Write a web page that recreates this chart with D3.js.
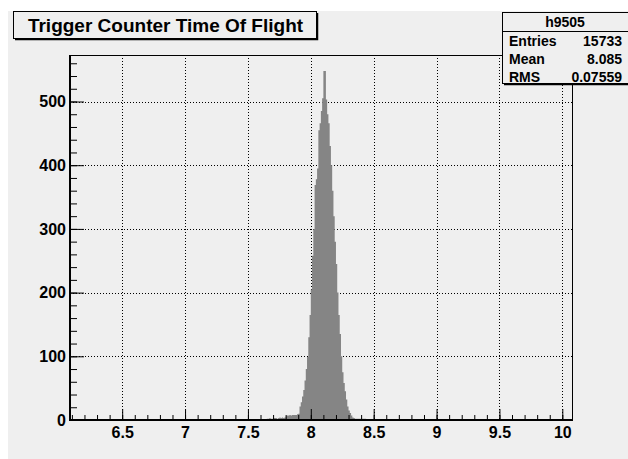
<!DOCTYPE html>
<html>
<head>
<meta charset="utf-8">
<script src="https://cdn.jsdelivr.net/npm/d3@7"></script>
<style>
  html, body { margin: 0; padding: 0; background: #fff; }
  svg { display: block; font-family: "Liberation Sans", Arial, Helvetica, sans-serif; font-weight: bold; }
</style>
</head>
<body>
<svg id="chart" width="628" height="459"></svg>
<script>
// histogram + stats box contents
const histName = "h9505";
const titleText = "Trigger Counter Time Of Flight";
const statLabels = ["Entries", "Mean", "RMS"];
const statValues = ["15733", "8.085", "0.07559"];

// axes
const xDomain = [6.085, 10.085];
const yMax = 573;
const xMajorTicks = [6.5, 7, 7.5, 8, 8.5, 9, 9.5, 10];
const xTickLabels = ["6.5", "7", "7.5", "8", "8.5", "9", "9.5", "10"];
const yMajorTicks = [0, 100, 200, 300, 400, 500];
const yTickLabels = ["0", "100", "200", "300", "400", "500"];

// bins: first low edge, width, contents
const binLow = 7.30;
const binWidth = 0.01;
const counts = [
  0, 0, 0, 1, 0, 0, 0, 0, 0, 0,          // 7.30
  0, 0, 0, 0, 0, 1, 0, 0, 0, 0,          // 7.40
  0, 0, 0, 0, 0, 0, 1, 0, 0, 0,          // 7.50
  1, 0, 1, 1, 1, 2, 2, 3, 2, 2,          // 7.60
  3, 3, 3, 2, 3, 4, 3, 4, 3, 4,          // 7.70
  6, 7, 7, 8, 7, 8, 8, 8, 8, 9,          // 7.80
  10, 21, 28, 37, 47, 62, 80, 99, 130, 165,      // 7.90
  205, 258, 300, 369, 378, 395, 455, 466, 485, 505, // 8.00
  548, 548, 503, 480, 466, 430, 400, 360, 320, 280, // 8.10
  245, 200, 165, 135, 100, 75, 58, 45, 32, 21,    // 8.20
  15, 11, 7, 4, 3, 2, 2, 2, 2, 2,        // 8.30
  2, 2, 2, 2, 1, 1, 1, 1, 1, 1,          // 8.40
  1, 0, 0, 0, 0, 1, 0, 0, 0, 0           // 8.50
];

const W = 628, H = 459;
const frame = { left: 70, right: 573, top: 55, bottom: 420 };
const bgColor = "#efefef";
const histColor = "#858585";

const svg = d3.select("#chart");

const x = d3.scaleLinear().domain(xDomain).range([frame.left, frame.right]);
const y = d3.scaleLinear().domain([0, yMax]).range([frame.bottom, frame.top]);

// canvas
svg.append("rect").attr("width", W).attr("height", H).attr("fill", "#fff");
svg.append("rect").attr("x", 8).attr("y", 11).attr("width", W - 8).attr("height", H - 11).attr("fill", bgColor);

svg.append("clipPath").attr("id", "frameClip")
  .append("rect")
  .attr("x", frame.left).attr("y", frame.top)
  .attr("width", frame.right - frame.left).attr("height", frame.bottom - frame.top);

// grid (dotted)
const grid = svg.append("g").attr("stroke", "#000").attr("stroke-width", 1).attr("stroke-dasharray", "1,2");
grid.selectAll("line.gx").data(xMajorTicks).enter().append("line")
  .attr("x1", d => Math.round(x(d)) + 0.5).attr("x2", d => Math.round(x(d)) + 0.5)
  .attr("y1", frame.top).attr("y2", frame.bottom);
grid.selectAll("line.gy").data(yMajorTicks.filter(d => d > 0)).enter().append("line")
  .attr("x1", frame.left).attr("x2", frame.right)
  .attr("y1", d => Math.round(y(d)) + 0.5).attr("y2", d => Math.round(y(d)) + 0.5);

// histogram
const pts = counts.map((c, i) => [binLow + i * binWidth, c]);
pts.push([binLow + counts.length * binWidth, 0]);
const area = d3.area()
  .curve(d3.curveStepAfter)
  .x(d => x(d[0]))
  .y0(y(0))
  .y1(d => y(d[1]));
svg.append("path")
  .datum(pts)
  .attr("clip-path", "url(#frameClip)")
  .attr("d", area)
  .attr("fill", histColor)
  .attr("stroke", "none");

// ticks + labels
function styleAxis(g) {
  g.select(".domain").remove();
  g.attr("font-family", null).attr("font-size", 16).attr("font-weight", "bold");
  g.selectAll("line").attr("stroke", "#000");
  g.selectAll("text").attr("fill", "#000");
}

svg.append("g")
  .attr("transform", `translate(0,${frame.bottom})`)
  .call(d3.axisBottom(x).tickValues(d3.range(61, 101).map(v => v / 10)).tickSize(-5).tickSizeOuter(0).tickFormat(""))
  .call(styleAxis);
svg.append("g")
  .attr("transform", `translate(0,${frame.bottom})`)
  .call(d3.axisBottom(x).tickValues(xMajorTicks).tickSize(-11).tickSizeOuter(0).tickPadding(7)
    .tickFormat((d, i) => xTickLabels[i]))
  .call(styleAxis);

svg.append("g")
  .attr("transform", `translate(${frame.left},0)`)
  .call(d3.axisLeft(y).tickValues(d3.range(0, 561, 20)).tickSize(-7).tickSizeOuter(0).tickFormat(""))
  .call(styleAxis);
svg.append("g")
  .attr("transform", `translate(${frame.left},0)`)
  .call(d3.axisLeft(y).tickValues(yMajorTicks).tickSize(-14).tickSizeOuter(0).tickPadding(4)
    .tickFormat((d, i) => yTickLabels[i]))
  .call(styleAxis);

// frame
svg.append("rect")
  .attr("x", frame.left + 0.5).attr("y", frame.top + 0.5)
  .attr("width", frame.right - frame.left - 1).attr("height", frame.bottom - frame.top - 1)
  .attr("fill", "none").attr("stroke", "#000").attr("stroke-width", 1);
svg.append("line").attr("x1", frame.left).attr("x2", frame.left).attr("y1", frame.top).attr("y2", frame.bottom + 1)
  .attr("stroke", "#000").attr("stroke-width", 2);
svg.append("line").attr("x1", frame.left).attr("x2", frame.right).attr("y1", frame.bottom).attr("y2", frame.bottom)
  .attr("stroke", "#000").attr("stroke-width", 2);

// title box
const tb = { x: 13, y: 11, w: 303, h: 27 };
svg.append("rect").attr("x", tb.x + 0.5).attr("y", tb.y + 0.5).attr("width", tb.w).attr("height", tb.h)
  .attr("fill", bgColor).attr("stroke", "#000");
svg.append("path")
  .attr("d", `M${tb.x + 2},${tb.y + tb.h + 1.5}H${tb.x + tb.w + 1.5}V${tb.y + 2}`)
  .attr("fill", "none").attr("stroke", "#000").attr("stroke-width", 1.5);
svg.append("text")
  .attr("x", tb.x + tb.w / 2 + 1).attr("y", 31.5)
  .attr("text-anchor", "middle").attr("font-size", 19)
  .text(titleText);

// stats box
const sb = { x: 502, y: 12, w: 130, h: 71 };
svg.append("rect").attr("x", sb.x + 0.5).attr("y", sb.y + 0.5).attr("width", sb.w).attr("height", sb.h)
  .attr("fill", bgColor).attr("stroke", "#000");
svg.append("line").attr("x1", sb.x + 2).attr("x2", W).attr("y1", sb.y + sb.h + 1.5).attr("y2", sb.y + sb.h + 1.5)
  .attr("stroke", "#000").attr("stroke-width", 1.5);
svg.append("line").attr("x1", sb.x).attr("x2", W).attr("y1", 31.5).attr("y2", 31.5)
  .attr("stroke", "#000");
svg.append("text")
  .attr("x", 565).attr("y", 27.3).attr("text-anchor", "middle").attr("font-size", 14)
  .text(histName);
const rowBase = [45.7, 64, 81.7];
svg.selectAll("text.slab").data(statLabels).enter().append("text")
  .attr("x", 509).attr("y", (d, i) => rowBase[i]).attr("font-size", 14).text(d => d);
svg.selectAll("text.sval").data(statValues).enter().append("text")
  .attr("x", 622).attr("y", (d, i) => rowBase[i]).attr("text-anchor", "end").attr("font-size", 14).text(d => d);
</script>
</body>
</html>
